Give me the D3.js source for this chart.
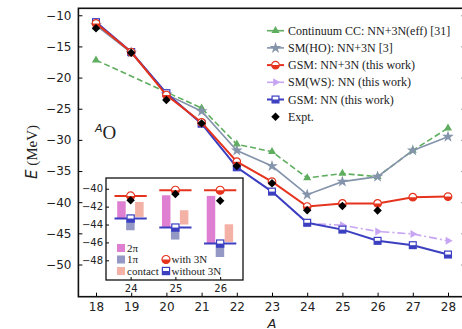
<!DOCTYPE html>
<html lang="en">
<head>
<meta charset="UTF-8">
<title>Oxygen isotopes ground-state energies</title>
<style>
  body { margin: 0; background: #fff; }
  svg { display: block; }
  .tick text { font-family: "DejaVu Sans", sans-serif; }
  .legend text { font-family: "Liberation Serif", serif; fill: #222; }
</style>
</head>
<body>
<svg id="chart" width="462" height="329"></svg>
<script src="https://d3js.org/d3.v7.min.js"></script>
<script>
// mass numbers
const massNumbers = [18, 19, 20, 21, 22, 23, 24, 25, 26, 27, 28];

// series values (MeV)
const ccMass   = [18, 21, 22, 23, 24, 25, 26, 27, 28];
const ccEnergy = [-17.2, -24.9, -30.7, -31.9, -36.1, -35.4, -35.9, -31.7, -28.1];
const smHO     = [-11.6, -16.0, -22.7, -25.4, -31.7, -34.2, -38.8, -36.7, -35.9, -31.7, -29.5];
const gsm3N    = [-11.3, -15.9, -22.8, -27.2, -33.5, -36.7, -40.7, -40.2, -40.2, -39.2, -39.1];
const smWS     = [-11.1, -15.9, -22.5, -27.4, -34.4, -38.3, -43.4, -43.7, -44.7, -45.1, -46.2];
const gsmNN    = [-11.1, -15.9, -22.5, -27.4, -34.4, -38.3, -43.3, -44.4, -46.2, -46.9, -48.4];
const exptMass = [18, 19, 20, 21, 22, 23, 24, 25, 26];
const expt     = [-12.1, -16.0, -23.6, -27.35, -34.2, -36.95, -41.3, -40.6, -41.35];

// inset: 3N contributions for 24-26O
const insetMass  = [24, 25, 26];
const with3N     = [-40.8, -40.17, -40.17];
const without3N  = [-43.33, -44.34, -46.13];
const twoPiTop   = [-41.4, -40.73, -40.8];
const onePiBot   = [-44.64, -45.68, -47.63];
const contactLo  = [-43.15, -44.0, -45.95];
const contactHi  = [-41.48, -42.4, -43.97];

const xTicks = massNumbers;
const yTicks = [-50, -45, -40, -35, -30, -25, -20, -15, -10];
const insetYTicks = [-48, -46, -44, -42, -40];

const C = {
  cc: '#5fae5f', ho: '#8494ab', red: '#e5331d', ws: '#c8a5f2', blue: '#3b3fc0',
  twoPi: '#de7fd1', onePi: '#9498c4', contact: '#f4b1a6'
};

const svg = d3.select('#chart');

const x = d3.scaleLinear().domain([17.5, 28.5]).range([78.4, 465.6]);
const y = d3.scaleLinear().domain([-55.17, -8.88]).range([296.7, 8.3]);

svg.append('clipPath').attr('id', 'plot-clip')
  .append('rect')
  .attr('x', x.range()[0]).attr('y', y.range()[1])
  .attr('width', x.range()[1] - x.range()[0]).attr('height', y.range()[0] - y.range()[1]);

// marker drawing helpers
function marker(g, type, color, s) {
  if (type === 'tri') {
    g.append('path').attr('d', d3.symbol(d3.symbolTriangle, s * s * 1.6)()).attr('fill', color);
  } else if (type === 'right') {
    g.append('path').attr('d', d3.symbol(d3.symbolTriangle, s * s * 1.6)())
      .attr('transform', 'rotate(90)').attr('fill', color);
  } else if (type === 'star') {
    g.append('path').attr('d', d3.symbol(d3.symbolStar, s * s * 2.2)()).attr('fill', color);
  } else if (type === 'diamond') {
    g.append('rect').attr('x', -s * 0.75).attr('y', -s * 0.75).attr('width', s * 1.5).attr('height', s * 1.5)
      .attr('transform', 'rotate(45)').attr('fill', '#000');
  } else if (type === 'hcircle') {
    const r = s;
    g.append('circle').attr('r', r).attr('fill', '#fff').attr('stroke', color).attr('stroke-width', 1.2);
    g.append('path').attr('d', `M${-r},0 A${r},${r} 0 0 0 ${r},0 Z`).attr('fill', color);
  } else if (type === 'hsquare') {
    const h = s * 0.9;
    g.append('rect').attr('x', -h).attr('y', -h).attr('width', 2 * h).attr('height', 2 * h)
      .attr('fill', '#fff').attr('stroke', color).attr('stroke-width', 1.2);
    g.append('rect').attr('x', -h).attr('y', 0).attr('width', 2 * h).attr('height', h).attr('fill', color);
  }
}

const series = [
  { name: 'Continuum CC: NN+3N(eff) [31]', xs: ccMass, ys: ccEnergy, color: C.cc, dash: '6,3', m: 'tri', s: 4.2, w: 1.6 },
  { name: 'SM(HO): NN+3N [3]', xs: massNumbers, ys: smHO, color: C.ho, dash: null, m: 'star', s: 4.4, w: 1.6 },
  { name: 'GSM: NN+3N (this work)', xs: massNumbers, ys: gsm3N, color: C.red, dash: null, m: 'hcircle', s: 3.8, w: 2, order: 5 },
  { name: 'SM(WS): NN (this work)', xs: massNumbers, ys: smWS, color: C.ws, dash: '8,3,2,3', m: 'right', s: 4.2, w: 1.6, order: 3 },
  { name: 'GSM: NN (this work)', xs: massNumbers, ys: gsmNN, color: C.blue, dash: null, m: 'hsquare', s: 3.8, w: 2, order: 4 },
  { name: 'Expt.', xs: exptMass, ys: expt, color: '#000', dash: null, m: 'diamond', s: 4, w: 0, noLine: true, order: 6 }
];

const plot = svg.append('g').attr('clip-path', 'url(#plot-clip)');
const line = d3.line().x(d => x(d[0])).y(d => y(d[1]));

series.map((s, i) => ({ s, o: s.order ?? i })).sort((a, b) => a.o - b.o).forEach(({ s }) => {
  const pts = s.xs.map((a, i) => [a, s.ys[i]]);
  if (!s.noLine) {
    plot.append('path').datum(pts).attr('d', line)
      .attr('fill', 'none').attr('stroke', s.color).attr('stroke-width', s.w)
      .attr('stroke-dasharray', s.dash);
  }
  pts.forEach(p => {
    const g = plot.append('g').attr('transform', `translate(${x(p[0])},${y(p[1])})`);
    marker(g, s.m, s.color, s.s);
  });
});

// axes, ticks inward
function styleAxis(g, size) {
  g.select('.domain').remove();
  g.selectAll('.tick line').attr('stroke', '#000').attr('stroke-width', 1);
  g.selectAll('.tick text').attr('font-size', size).attr('fill', '#222');
}
const fmt = d => d3.format('d')(d).replace('-', '\u2212');

svg.append('g').attr('transform', `translate(0,${y.range()[0]})`)
  .call(d3.axisBottom(x).tickValues(xTicks).tickSizeInner(-4).tickSizeOuter(0).tickPadding(6))
  .call(g => styleAxis(g, 12));
svg.append('g').attr('transform', `translate(${x.range()[0]},0)`)
  .call(d3.axisLeft(y).tickValues(yTicks).tickFormat(fmt).tickSizeInner(-4).tickSizeOuter(0).tickPadding(7))
  .call(g => styleAxis(g, 12));
svg.append('g').attr('transform', `translate(${x.range()[1]},0)`)
  .call(d3.axisRight(y).tickValues(yTicks).tickFormat('').tickSizeInner(-4).tickSizeOuter(0))
  .call(g => styleAxis(g, 12));

svg.append('rect')
  .attr('x', x.range()[0]).attr('y', y.range()[1])
  .attr('width', x.range()[1] - x.range()[0]).attr('height', y.range()[0] - y.range()[1])
  .attr('fill', 'none').attr('stroke', '#111').attr('stroke-width', 1.6);

// axis titles
svg.append('text').attr('transform', 'translate(37,152) rotate(-90)').attr('text-anchor', 'middle')
  .attr('font-size', 15).attr('fill', '#222')
  .call(t => {
    t.append('tspan').attr('font-family', 'DejaVu Sans, sans-serif').attr('font-style', 'italic').text('E');
    t.append('tspan').attr('font-family', 'Liberation Serif, serif').text(' (MeV)');
  });
svg.append('text').attr('x', 272).attr('y', 327.5).attr('text-anchor', 'middle')
  .attr('font-family', 'DejaVu Sans, sans-serif').attr('font-style', 'italic').attr('font-size', 13)
  .attr('fill', '#222').text('A');

// nucleus label
svg.append('text').attr('x', 95).attr('y', 139).attr('fill', '#222')
  .call(t => {
    t.append('tspan').attr('font-family', 'DejaVu Sans, sans-serif').attr('font-style', 'italic')
      .attr('font-size', 11).attr('dy', -7).text('A');
    t.append('tspan').attr('font-family', 'Liberation Serif, serif').attr('font-size', 19)
      .attr('dy', 7).text('O');
  });

// main legend
const legend = svg.append('g').attr('class', 'legend');
series.forEach((s, i) => {
  const ly = 30.7 + i * 17.2;
  const g = legend.append('g').attr('transform', `translate(0,${ly})`);
  if (!s.noLine) {
    g.append('line').attr('x1', 267).attr('x2', 284).attr('y1', 0).attr('y2', 0)
      .attr('stroke', s.color).attr('stroke-width', s.w);
  }
  marker(g.append('g').attr('transform', 'translate(275.5,0)'), s.m, s.color, s.s);
  g.append('text').attr('x', 288).attr('y', 4).style('font-size', '12px').text(s.name);
});

// inset
const xi = d3.scaleLinear().domain([23.45, 26.51]).range([106, 243]);
const yi = d3.scaleLinear().domain([-50.2, -38.8]).range([280, 178]);
const inset = svg.append('g');
inset.append('rect').attr('x', 106).attr('y', 178).attr('width', 137).attr('height', 102)
  .attr('fill', '#fff');

const bw = 0.19;
insetMass.forEach((a, i) => {
  const bars = [
    { c: C.twoPi, x0: a - 0.3, lo: without3N[i], hi: twoPiTop[i] },
    { c: C.onePi, x0: a - 0.1, lo: onePiBot[i], hi: without3N[i] },
    { c: C.contact, x0: a + 0.1, lo: contactLo[i], hi: contactHi[i] }
  ];
  bars.forEach(b => {
    inset.append('rect').attr('x', xi(b.x0)).attr('width', xi(b.x0 + bw) - xi(b.x0))
      .attr('y', yi(b.hi)).attr('height', yi(b.lo) - yi(b.hi)).attr('fill', b.c);
  });
  inset.append('line').attr('x1', xi(a - 0.36)).attr('x2', xi(a + 0.36))
    .attr('y1', yi(with3N[i])).attr('y2', yi(with3N[i])).attr('stroke', C.red).attr('stroke-width', 2);
  inset.append('line').attr('x1', xi(a - 0.36)).attr('x2', xi(a + 0.36))
    .attr('y1', yi(without3N[i])).attr('y2', yi(without3N[i])).attr('stroke', C.blue).attr('stroke-width', 2);
  marker(inset.append('g').attr('transform', `translate(${xi(a)},${yi(with3N[i])})`), 'hcircle', C.red, 4);
  marker(inset.append('g').attr('transform', `translate(${xi(a)},${yi(without3N[i])})`), 'hsquare', C.blue, 4);
  const e = expt[exptMass.indexOf(a)];
  marker(inset.append('g').attr('transform', `translate(${xi(a)},${yi(e)})`), 'diamond', '#000', 4);
});

inset.append('g').attr('transform', 'translate(0,280)')
  .call(d3.axisBottom(xi).tickValues(insetMass).tickFormat(d3.format('d')).tickSizeInner(-3).tickSizeOuter(0).tickPadding(5))
  .call(g => styleAxis(g, 10));
inset.append('g').attr('transform', 'translate(106,0)')
  .call(d3.axisLeft(yi).tickValues(insetYTicks).tickFormat(fmt).tickSizeInner(-3).tickSizeOuter(0).tickPadding(3))
  .call(g => styleAxis(g, 10));
inset.append('rect').attr('x', 106).attr('y', 178).attr('width', 137).attr('height', 102)
  .attr('fill', 'none').attr('stroke', '#111').attr('stroke-width', 1.3);

// inset legend
const il = inset.append('g').attr('class', 'legend');
[[C.twoPi, '2\u03c0', 248], [C.onePi, '1\u03c0', 259.5], [C.contact, 'contact', 271]].forEach(([c, t, ly]) => {
  il.append('rect').attr('x', 117).attr('y', ly - 4).attr('width', 8).attr('height', 8).attr('fill', c);
  il.append('text').attr('x', 127).attr('y', ly + 3.5).style('font-size', '11px').text(t);
});
[['hcircle', C.red, 'with 3N', 259.5], ['hsquare', C.blue, 'without 3N', 271]].forEach(([m, c, t, ly]) => {
  marker(il.append('g').attr('transform', `translate(166,${ly})`), m, c, 4);
  il.append('text').attr('x', 171.5).attr('y', ly + 3.5).style('font-size', '11px').text(t);
});
</script>
</body>
</html>
